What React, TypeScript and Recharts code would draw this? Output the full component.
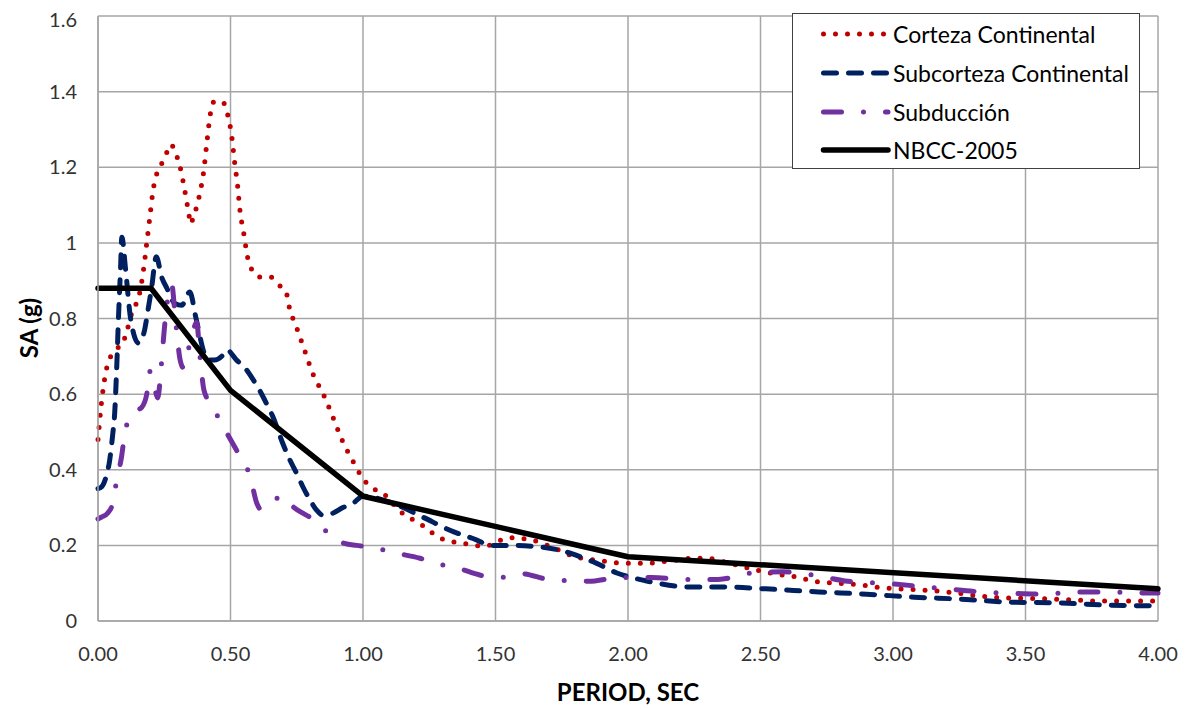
import { LineChart, Line, XAxis, YAxis, CartesianGrid, Legend, Label } from "recharts";

// period (s) and spectral acceleration (g) per record group
const cortezaT = [0, 0.012, 0.03, 0.048, 0.07, 0.09, 0.11, 0.13, 0.155, 0.17, 0.184, 0.196, 0.206, 0.225, 0.25, 0.274, 0.297, 0.31, 0.327, 0.342, 0.35, 0.36, 0.372, 0.384, 0.399, 0.41, 0.425, 0.44, 0.474, 0.489, 0.505, 0.516, 0.527, 0.535, 0.55, 0.565, 0.58, 0.61, 0.65, 0.68, 0.71, 0.72, 0.75, 0.78, 0.81, 0.85, 0.886, 0.92, 0.96, 1.007, 1.04, 1.08, 1.14, 1.22, 1.29, 1.38, 1.46, 1.55, 1.63, 1.72, 1.8, 1.89, 1.98, 2.07, 2.17, 2.25, 2.3, 2.38, 2.47, 2.56, 2.64, 2.7, 2.79, 2.88, 2.96, 3.05, 3.15, 3.24, 3.33, 3.42, 3.5, 3.6, 3.68, 3.77, 4.0];
const cortezaSA = [0.48, 0.57, 0.66, 0.7, 0.72, 0.73, 0.77, 0.82, 0.86, 0.92, 1.0, 1.07, 1.13, 1.19, 1.22, 1.26, 1.23, 1.2, 1.14, 1.08, 1.05, 1.07, 1.095, 1.13, 1.19, 1.26, 1.345, 1.375, 1.37, 1.34, 1.28, 1.21, 1.15, 1.09, 1.025, 0.96, 0.93, 0.91, 0.91, 0.89, 0.87, 0.835, 0.775, 0.715, 0.655, 0.6, 0.54, 0.48, 0.425, 0.37, 0.35, 0.335, 0.29, 0.255, 0.22, 0.205, 0.198, 0.22, 0.215, 0.193, 0.17, 0.16, 0.153, 0.153, 0.16, 0.166, 0.166, 0.153, 0.137, 0.124, 0.116, 0.105, 0.1, 0.095, 0.088, 0.084, 0.08, 0.074, 0.066, 0.061, 0.06, 0.058, 0.056, 0.053, 0.053];

const subcortezaT = [0, 0.014, 0.03, 0.044, 0.055, 0.063, 0.07, 0.078, 0.085, 0.09, 0.104, 0.123, 0.153, 0.176, 0.187, 0.202, 0.22, 0.24, 0.26, 0.29, 0.316, 0.346, 0.37, 0.4, 0.414, 0.44, 0.467, 0.486, 0.523, 0.554, 0.584, 0.61, 0.636, 0.66, 0.697, 0.724, 0.75, 0.773, 0.8, 0.825, 0.848, 0.886, 0.924, 0.96, 1.0, 1.127, 1.225, 1.328, 1.43, 1.48, 1.554, 1.667, 1.78, 1.83, 1.88, 1.958, 2.056, 2.11, 2.23, 2.36, 2.52, 2.72, 2.9, 3.08, 3.25, 3.44, 3.62, 3.81, 4.0];
const subcortezaSA = [0.35, 0.355, 0.38, 0.425, 0.49, 0.55, 0.66, 0.815, 0.93, 1.015, 0.93, 0.8, 0.735, 0.77, 0.815, 0.88, 0.963, 0.91, 0.88, 0.84, 0.835, 0.87, 0.8, 0.71, 0.69, 0.69, 0.7, 0.717, 0.69, 0.67, 0.64, 0.61, 0.575, 0.54, 0.47, 0.426, 0.39, 0.355, 0.32, 0.293, 0.28, 0.285, 0.3, 0.31, 0.33, 0.307, 0.275, 0.24, 0.214, 0.2, 0.2, 0.196, 0.18, 0.167, 0.153, 0.127, 0.108, 0.1, 0.09, 0.09, 0.085, 0.077, 0.071, 0.063, 0.058, 0.05, 0.048, 0.042, 0.04];

const subduccionT = [0, 0.014, 0.036, 0.055, 0.07, 0.089, 0.1, 0.116, 0.14, 0.165, 0.184, 0.195, 0.21, 0.225, 0.24, 0.25, 0.265, 0.278, 0.292, 0.31, 0.322, 0.338, 0.36, 0.372, 0.385, 0.4, 0.43, 0.46, 0.508, 0.54, 0.573, 0.6, 0.615, 0.63, 0.665, 0.7, 0.74, 0.773, 0.81, 0.85, 0.886, 0.93, 0.976, 1.026, 1.12, 1.215, 1.27, 1.357, 1.45, 1.52, 1.6, 1.7, 1.85, 1.97, 2.09, 2.22, 2.34, 2.47, 2.585, 2.71, 2.83, 2.96, 3.08, 3.2, 3.33, 3.45, 3.57, 3.7, 3.82, 3.94, 4.0];
const subduccionSA = [0.27, 0.275, 0.285, 0.31, 0.37, 0.435, 0.49, 0.535, 0.555, 0.565, 0.6, 0.66, 0.63, 0.59, 0.685, 0.77, 0.86, 0.89, 0.8, 0.69, 0.67, 0.71, 0.77, 0.79, 0.7, 0.61, 0.57, 0.53, 0.47, 0.43, 0.385, 0.31, 0.295, 0.3, 0.32, 0.33, 0.3, 0.285, 0.27, 0.245, 0.22, 0.205, 0.2, 0.196, 0.18, 0.166, 0.153, 0.14, 0.12, 0.115, 0.125, 0.11, 0.105, 0.115, 0.115, 0.11, 0.11, 0.127, 0.13, 0.12, 0.105, 0.1, 0.093, 0.085, 0.077, 0.073, 0.071, 0.077, 0.077, 0.074, 0.074];

const nbccT = [0, 0.2, 0.5, 1.0, 2.0, 4.0];
const nbccSA = [0.88, 0.88, 0.61, 0.33, 0.17, 0.085];

const xTicks = [0, 0.5, 1, 1.5, 2, 2.5, 3, 3.5, 4];
const yTicks = [0, 0.2, 0.4, 0.6, 0.8, 1, 1.2, 1.4, 1.6];
const yTickLabels = ["0", "0.2", "0.4", "0.6", "0.8", "1", "1.2", "1.4", "1.6"];

const toPoints = (t: number[], sa: number[]) => t.map((x, i) => ({ t: x, sa: sa[i] }));

const FONT = "Lato, 'Open Sans', sans-serif";
const GRID = "#a6a6a6";

const series = [
  { name: "Corteza Continental", data: toPoints(cortezaT, cortezaSA), color: "#c00000", dash: "0 12", width: 5, type: "monotone" },
  { name: "Subcorteza Continental", data: toPoints(subcortezaT, subcortezaSA), color: "#002060", dash: "13 12", width: 5, type: "monotone" },
  { name: "Subducción", data: toPoints(subduccionT, subduccionSA), color: "#7030a0", dash: "18 22 0 22", width: 5, type: "monotone" },
  { name: "NBCC-2005", data: toPoints(nbccT, nbccSA), color: "#000000", dash: undefined, width: 5.5, type: "linear" },
];

function LegendBox() {
  return (
    <div style={{ border: "1px solid #404040", background: "#fff", width: 348, height: 156, boxSizing: "border-box", paddingTop: 1, fontFamily: FONT }}>
      {series.map(s => (
        <div key={s.name} style={{ display: "flex", alignItems: "center", height: 38.7 }}>
          <svg width={100} height={14}>
            <line x1={30.5} y1={7} x2={95} y2={7} stroke={s.color} strokeWidth={s.width} strokeDasharray={s.dash} strokeLinecap="round" />
          </svg>
          <span style={{ fontSize: 23, color: "#000", marginLeft: 0 }}>{s.name}</span>
        </div>
      ))}
    </div>
  );
}

export default function App() {
  return (
    <LineChart width={1179} height={701} margin={{ top: 8, right: 29, bottom: 28, left: 0 }}>
      <CartesianGrid stroke={GRID} strokeWidth={1.5} />
      <XAxis
        type="number"
        dataKey="t"
        domain={[0, 4]}
        ticks={xTicks}
        tickFormatter={v => Number(v).toFixed(2)}
        tick={{ fontSize: 20, fill: "#333", fontFamily: FONT }}
        tickLine={false}
        tickSize={0}
        tickMargin={26}
        axisLine={{ stroke: GRID, strokeWidth: 1.5 }}
        height={60}
      >
        <Label
          content={() => (
            <text x={620} y={693} textAnchor="middle" fontFamily={FONT} fontWeight="bold" fontSize={24} fill="#000">
              PERIOD, SEC
            </text>
          )}
        />
      </XAxis>
      <YAxis
        type="number"
        domain={[0, 1.6]}
        ticks={yTicks}
        tickFormatter={(v, i) => yTickLabels[i] ?? String(v)}
        tick={{ fontSize: 20, fill: "#333", fontFamily: FONT }}
        tickLine={false}
        tickSize={0}
        tickMargin={21}
        axisLine={{ stroke: GRID, strokeWidth: 1.5 }}
        width={90}
      >
        <Label
          content={() => (
            <text x={20} y={320} transform="rotate(-90 20 320)" textAnchor="middle" dominantBaseline="central" fontFamily={FONT} fontWeight="bold" fontSize={24} fill="#000">
              SA (g)
            </text>
          )}
        />
      </YAxis>
      <Legend
        layout="horizontal"
        verticalAlign="middle"
        align="center"
        content={() => <LegendBox />}
        wrapperStyle={{ top: 5, left: 784, width: 348, height: 156 }}
      />
      {series.map(s => (
        <Line
          key={s.name}
          name={s.name}
          data={s.data}
          dataKey="sa"
          type={s.type as any}
          stroke={s.color}
          strokeWidth={s.width}
          strokeDasharray={s.dash}
          strokeLinecap="round"
          strokeLinejoin="round"
          dot={false}
          activeDot={false}
          isAnimationActive={false}
        />
      ))}
    </LineChart>
  );
}
